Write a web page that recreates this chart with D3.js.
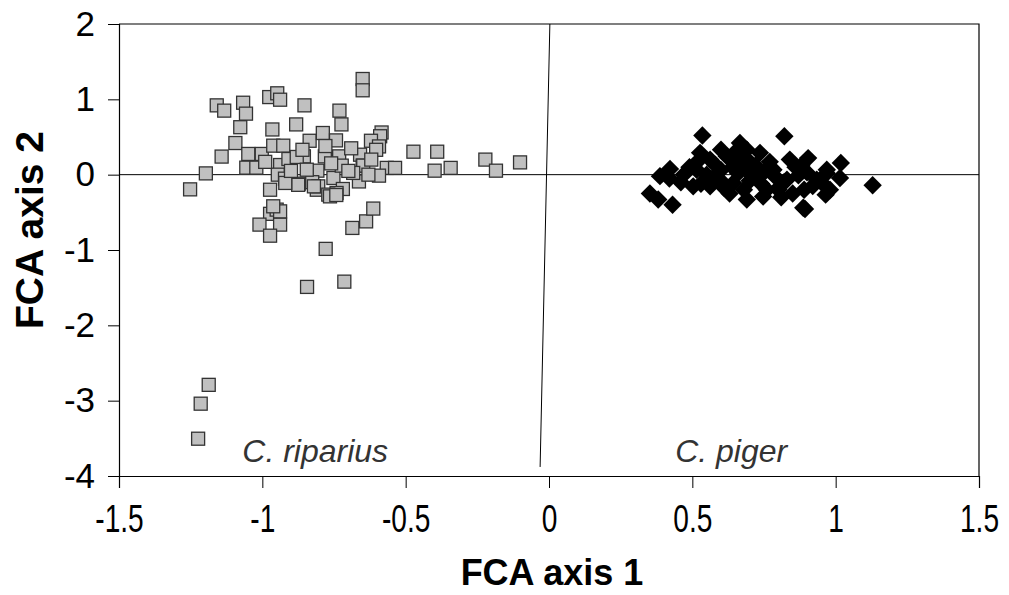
<!DOCTYPE html>
<html>
<head>
<meta charset="utf-8">
<script src="https://cdn.jsdelivr.net/npm/d3@7"></script>
<style>
  body { margin: 0; background: #fff; }
  svg { display: block; font-family: Arial, "Liberation Sans", sans-serif; }
</style>
</head>
<body>
<div id="chart"></div>
<script>
// C. riparius scores [axis1, axis2]
const riparius = [
  [-1.159, 0.92], [-1.133, 0.85], [-1.067, 0.955], [-1.057, 0.81], [-1.077, 0.63],
  [-0.976, 1.03], [-0.948, 1.08], [-0.938, 0.995], [-0.853, 0.92], [-0.882, 0.667],
  [-0.965, 0.60], [-0.731, 0.85], [-0.724, 0.667], [-0.650, 1.27], [-0.650, 1.12],
  [-1.094, 0.42], [-1.142, 0.24], [-1.197, 0.017], [-1.252, -0.195],
  [-1.049, 0.275], [-1.002, 0.275], [-1.056, 0.093], [-1.021, 0.093],
  [-0.962, 0.385], [-0.927, 0.385], [-0.938, 0.128], [-0.946, 0.0], [-0.973, -0.2],
  [-0.921, -0.053], [-0.873, -0.12], [-0.855, 0.243], [-0.835, 0.45], [-0.789, 0.553],
  [-0.808, 0.053], [-0.826, -0.10], [-0.782, 0.243], [-0.743, 0.455], [-0.732, 0.243],
  [-0.752, -0.044], [-0.659, 0.265], [-0.650, 0.12], [-0.663, -0.09], [-0.719, -0.19],
  [-0.741, -0.243], [-0.81, -0.2], [-0.909, 0.208], [-0.88, 0.235], [-0.845, 0.066],
  [-0.584, 0.56], [-0.589, 0.51], [-0.621, 0.45], [-0.593, 0.375], [-0.603, 0.33],
  [-0.648, 0.12], [-0.566, 0.09], [-0.537, 0.09], [-0.473, 0.305], [-0.39, 0.305],
  [-0.399, 0.053], [-0.343, 0.09], [-0.222, 0.2], [-0.185, 0.053], [-0.101, 0.163],
  [-0.593, -0.013], [-0.805, -0.155], [-0.77, -0.265], [-0.683, 0.023], [-0.723, 0.12],
  [-0.973, -0.52], [-1.01, -0.663], [-0.938, -0.663], [-0.973, -0.81], [-0.95, -0.464],
  [-0.938, -0.487], [-0.962, -0.42], [-0.779, -0.985], [-0.844, -1.49], [-0.714, -1.42],
  [-0.686, -0.707], [-0.638, -0.62], [-0.613, -0.45], [-0.764, -0.288], [-0.742, -0.27],
  [-0.82, -0.155], [-0.875, -0.135], [-0.92, -0.11], [-0.62, 0.2], [-0.69, 0.35],
  [-0.78, 0.38], [-0.9, 0.05], [-0.99, 0.17], [-0.76, 0.15], [-0.7, 0.05],
  [-0.63, 0.0], [-0.86, 0.33], [-1.187, -2.79], [-1.215, -3.04], [-1.224, -3.505]
];

// C. piger scores [axis1, axis2]
const piger = [
  [0.535, 0.52], [0.821, 0.51], [0.387, -0.02], [0.422, 0.075], [0.352, -0.25],
  [0.381, -0.33], [0.431, -0.40], [0.527, 0.29], [0.515, 0.066], [0.562, 0.2],
  [0.666, 0.42], [0.69, 0.33], [0.736, 0.29], [0.62, 0.243], [0.69, -0.33],
  [0.747, -0.29], [0.904, 0.22], [0.887, -0.44], [0.503, -0.155], [0.562, -0.155],
  [0.596, -0.066], [0.643, -0.11], [0.783, 0.066], [0.83, -0.066], [0.806, -0.155],
  [0.934, -0.066], [0.969, 0.02], [1.018, 0.155], [1.015, -0.044], [0.969, 0.066],
  [0.965, -0.265], [0.893, -0.455], [1.129, -0.14], [0.58, 0.13], [0.64, 0.1],
  [0.69, 0.1], [0.71, -0.02], [0.75, 0.03], [0.86, 0.1], [0.87, -0.01],
  [0.47, 0.0], [0.49, 0.1], [0.55, 0.0], [0.6, 0.06], [0.66, 0.02],
  [0.7, 0.17], [0.77, 0.17], [0.8, -0.2], [0.85, -0.25], [0.92, -0.15],
  [0.95, -0.1], [0.9, 0.03], [0.74, -0.12], [0.68, -0.2], [0.63, -0.25],
  [0.57, -0.05], [0.52, 0.18], [0.6, 0.33], [0.65, 0.3], [0.72, 0.12],
  [0.79, -0.03], [0.84, 0.2], [0.88, 0.12], [0.98, -0.2], [0.42, -0.05],
  [0.46, -0.1], [0.53, -0.12], [0.61, -0.17], [0.7, -0.08], [0.76, -0.2],
  [0.81, -0.3], [0.67, 0.2], [0.73, 0.05], [0.82, -0.1], [0.89, -0.2]
];

// dividing line between the two groups [axis1, axis2]
const divider = [[0.003, 2], [-0.031, -3.88]];

// group labels
const groupLabels = [
  {text: "C. riparius", x: -1.07, y: -3.82},
  {text: "C. piger", x: 0.44, y: -3.82}
];

const xTicks = [-1.5, -1, -0.5, 0, 0.5, 1, 1.5];
const yTicks = [-4, -3, -2, -1, 0, 1, 2];

const margin = {top: 24, right: 30, bottom: 119, left: 119};
const width = 1009 - margin.left - margin.right;
const height = 595 - margin.top - margin.bottom;

const x = d3.scaleLinear().domain([-1.5, 1.5]).range([0, width]);
const y = d3.scaleLinear().domain([-4, 2]).range([height, 0]);

const svg = d3.select("#chart")
  .append("svg")
  .attr("width", 1009)
  .attr("height", 595)
  .append("g")
  .attr("transform", `translate(${margin.left},${margin.top})`);

// frame (top and right)
svg.append("path")
  .attr("d", `M0,0H${width}V${height}`)
  .attr("fill", "none")
  .attr("stroke", "#000")
  .attr("stroke-width", 1.2);

// x axis - narrow looking labels
svg.append("g")
  .attr("transform", `translate(0,${height})`)
  .call(d3.axisBottom(x).tickValues(xTicks).tickSize(12).tickPadding(17)
    .tickFormat(d => d3.format("")(d).replace("−", "-")))
  .call(g => g.select(".domain").attr("stroke-width", 1.2))
  .call(g => g.selectAll(".tick text")
    .style("font-size", "38px")
    .attr("transform", "scale(0.74,1)")
    .attr("fill", "#000"));

// y axis
svg.append("g")
  .call(d3.axisLeft(y).tickValues(yTicks).tickSize(11).tickPadding(13)
    .tickFormat(d => d3.format("")(d).replace("−", "-")))
  .call(g => g.select(".domain").attr("stroke-width", 1.2))
  .call(g => g.selectAll(".tick text")
    .style("font-size", "35px")
    .attr("fill", "#000"));

// zero line
svg.append("line")
  .attr("x1", 0).attr("x2", width)
  .attr("y1", y(0)).attr("y2", y(0))
  .attr("stroke", "#000")
  .attr("stroke-width", 1);

// dividing line
svg.append("line")
  .attr("x1", x(divider[0][0])).attr("y1", y(divider[0][1]))
  .attr("x2", x(divider[1][0])).attr("y2", y(divider[1][1]))
  .attr("stroke", "#000")
  .attr("stroke-width", 1);

// C. riparius squares
const sq = 13;
svg.selectAll(".rip")
  .data(riparius)
  .join("rect")
  .attr("class", "rip")
  .attr("x", d => x(d[0]) - sq / 2)
  .attr("y", d => y(d[1]) - sq / 2)
  .attr("width", sq)
  .attr("height", sq)
  .attr("fill", "#c0c0c0")
  .attr("stroke", "#333")
  .attr("stroke-width", 1.3);

// C. piger diamonds
const dm = 13;
svg.selectAll(".pig")
  .data(piger)
  .join("rect")
  .attr("class", "pig")
  .attr("x", -dm / 2)
  .attr("y", -dm / 2)
  .attr("width", dm)
  .attr("height", dm)
  .attr("transform", d => `translate(${x(d[0])},${y(d[1])}) rotate(45)`)
  .attr("fill", "#000");

// group labels
svg.selectAll(".glabel")
  .data(groupLabels)
  .join("text")
  .attr("class", "glabel")
  .attr("x", d => x(d.x))
  .attr("y", d => y(d.y))
  .style("font-size", "32px")
  .style("font-style", "italic")
  .attr("fill", "#333")
  .text(d => d.text);

// axis titles
svg.append("text")
  .attr("x", 552 - margin.left)
  .attr("y", 585 - margin.top)
  .attr("text-anchor", "middle")
  .style("font-size", "36px")
  .style("font-weight", "bold")
  .text("FCA axis 1");

svg.append("text")
  .attr("transform", `translate(${43 - margin.left},${230 - margin.top}) rotate(-90)`)
  .attr("text-anchor", "middle")
  .style("font-size", "39px")
  .style("font-weight", "bold")
  .text("FCA axis 2");
</script>
</body>
</html>
